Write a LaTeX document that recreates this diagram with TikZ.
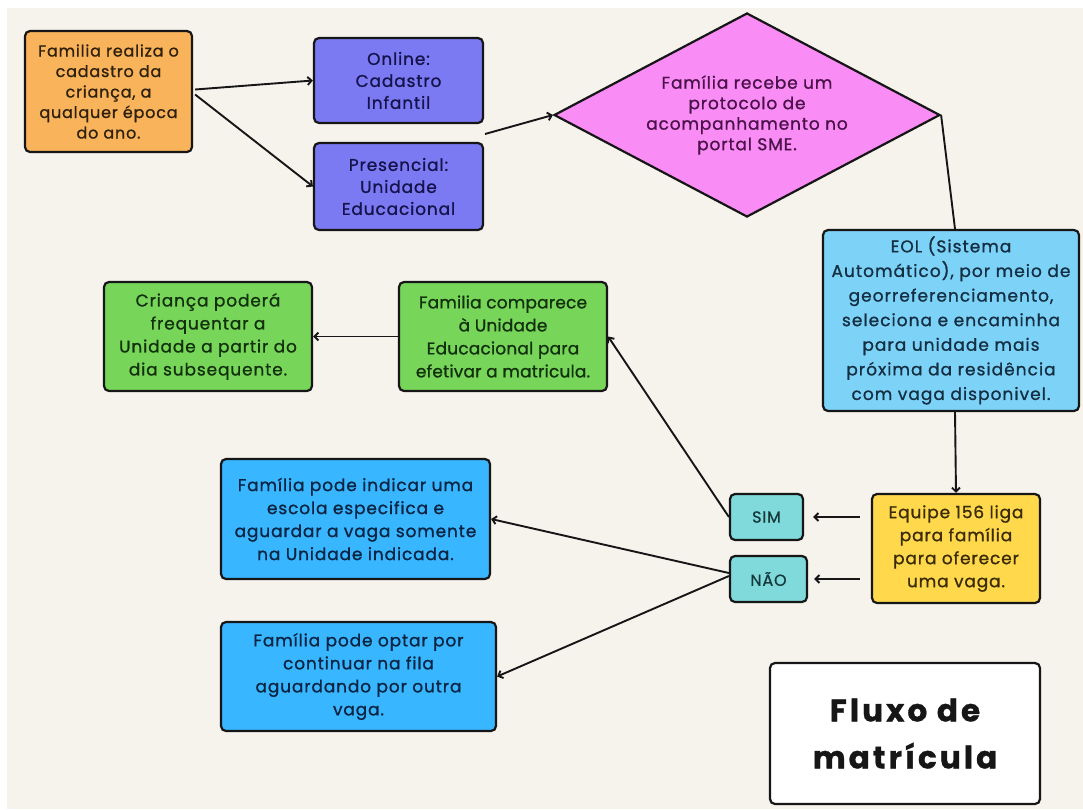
\documentclass[tikz,border=0pt]{standalone}
\usepackage{fontspec}
\setmainfont{Poppins}[LetterSpace=5, FakeBold=1]
\usetikzlibrary{shapes.geometric,arrows.meta}

\definecolor{paper}{HTML}{F6F2EC}
\definecolor{orangebox}{HTML}{F9B45B}
\definecolor{orangetxt}{HTML}{2E200E}
\definecolor{violetbox}{HTML}{7B7AF3}
\definecolor{violettxt}{HTML}{15134A}
\definecolor{pinkbox}{HTML}{FA8CF6}
\definecolor{pinktxt}{HTML}{4A1248}
\definecolor{skybox}{HTML}{7DD3F7}
\definecolor{skytxt}{HTML}{142E42}
\definecolor{yellowbox}{HTML}{FFD84C}
\definecolor{yellowtxt}{HTML}{3A2C08}
\definecolor{tealbox}{HTML}{80D9DB}
\definecolor{tealtxt}{HTML}{143A3C}
\definecolor{greenbox}{HTML}{77D65A}
\definecolor{greentxt}{HTML}{12300C}
\definecolor{bluebox}{HTML}{38B6FF}
\definecolor{bluetxt}{HTML}{0A2442}
\definecolor{ink}{HTML}{161616}

\begin{document}
\begin{tikzpicture}[x=1pt,y=-1pt,
  box/.style={draw=ink, line width=2.2pt, rounded corners=5pt, align=center,
    inner sep=0pt, font=\fontsize{17}{23}\selectfont},
  conn/.style={line width=1.9pt, draw=ink},
  arr/.style={conn, -{Straight Barb[length=4pt,width=8pt]}},
]
% page and paper
\fill[white] (0,0) rectangle (1083,809);
\fill[paper] (7,8) rectangle (1083,809);
\useasboundingbox (0,0) rectangle (1083,809);

% registration
\node[box, fill=orangebox, text=orangetxt, minimum width=167pt, minimum height=121pt,
  font=\fontsize{16}{20.5}\selectfont] (cadastro) at (108.5,91.5)
  {Familia realiza o\\cadastro da\\criança, a\\qualquer época\\do ano.};
\node[box, fill=violetbox, text=violettxt, minimum width=169pt, minimum height=85pt,
  font=\fontsize{17}{22}\selectfont] (online) at (398.5,80.5)
  {Online:\\Cadastro\\Infantil};
\node[box, fill=violetbox, text=violettxt, minimum width=169pt, minimum height=87pt,
  font=\fontsize{17}{22}\selectfont] (presencial) at (398.5,186.5)
  {Presencial:\\Unidade\\Educacional};

% protocol
\node[draw=ink, line width=2.2pt, diamond, shape aspect=1.9, fill=pinkbox, text=pinktxt,
  minimum width=386pt, minimum height=204pt, inner sep=0pt, align=center,
  font=\fontsize{17}{20.5}\selectfont] (protocolo) at (747,115)
  {Família recebe um\\protocolo de\\acompanhamento no\\portal SME.};

% automatic system
\node[box, fill=skybox, text=skytxt, minimum width=256pt, minimum height=181pt,
  font=\fontsize{17}{24.6}\selectfont\addfontfeatures{LetterSpace=6}] (eol) at (951,320.5)
  {EOL (Sistema\\Automático), por meio de\\georreferenciamento,\\seleciona e encaminha\\para unidade mais\\próxima da residência\\com vaga disponivel.};

% phone call
\node[box, fill=yellowbox, text=yellowtxt, minimum width=168pt, minimum height=109pt] (equipe) at (956,548.5)
  {Equipe 156 liga\\para família\\para oferecer\\uma vaga.};

% answers
\node[box, fill=tealbox, text=tealtxt, minimum width=73pt, minimum height=46pt,
  font=\fontsize{16}{20}\selectfont] (sim) at (766.5,517) {SIM};
\node[box, fill=tealbox, text=tealtxt, minimum width=77pt, minimum height=46pt,
  font=\fontsize{16}{20}\selectfont] (nao) at (768.5,579) {NÃO};

% enrolment
\node[box, fill=greenbox, text=greentxt, minimum width=208pt, minimum height=109pt,
  font=\fontsize{17}{23}\selectfont\addfontfeatures{LetterSpace=1}] (comparece) at (503,336.5)
  {Familia comparece\\à Unidade\\Educacional para\\efetivar a matricula.};
\node[box, fill=greenbox, text=greentxt, minimum width=208pt, minimum height=109pt] (frequenta) at (208,336.5)
  {Criança poderá\\frequentar a\\Unidade a partir do\\dia subsequente.};

% waiting options
\node[box, fill=bluebox, text=bluetxt, minimum width=269pt, minimum height=120pt] (indicar) at (355.5,519)
  {Família pode indicar uma\\escola especifica e\\aguardar a vaga somente\\na Unidade indicada.};
\node[box, fill=bluebox, text=bluetxt, minimum width=275pt, minimum height=109pt] (fila) at (358.5,676.5)
  {Família pode optar por\\continuar na fila\\aguardando por outra\\vaga.};

% title
\node[box, fill=white, text=ink, minimum width=270pt, minimum height=141pt,
  font=\fontsize{31}{47}\selectfont\bfseries\addfontfeatures{LetterSpace=10}] (titulo) at (905,733.5)
  {Fluxo de\\matrícula};

% connectors
\coordinate (saida) at (485,134);
\draw[arr] ([shift={(2,-2)}]cadastro.east) -- (online.west);
\draw[arr] ([shift={(2,3)}]cadastro.east) -- (presencial.west);
\draw[arr] (saida) -- (protocolo.west);
\draw[conn] (protocolo.east) -- ([shift={(4,0)}]eol.north);
\draw[arr] ([shift={(4,0)}]eol.south) -- (equipe.north);
\draw[arr] ([xshift=-11pt]equipe.west |- sim.east) -- ([xshift=9pt]sim.east);
\draw[arr] ([xshift=-11pt]equipe.west |- nao.east) -- ([xshift=6pt]nao.east);
\draw[arr] (sim.west) -- (comparece.east);
\draw[arr] (comparece.west) -- (frequenta.east);
\draw[arr] ([shift={(0,-6)}]nao.west) -- (indicar.east);
\draw[arr] ([shift={(0,-3)}]nao.west) -- (fila.east);
\end{tikzpicture}
\end{document}
